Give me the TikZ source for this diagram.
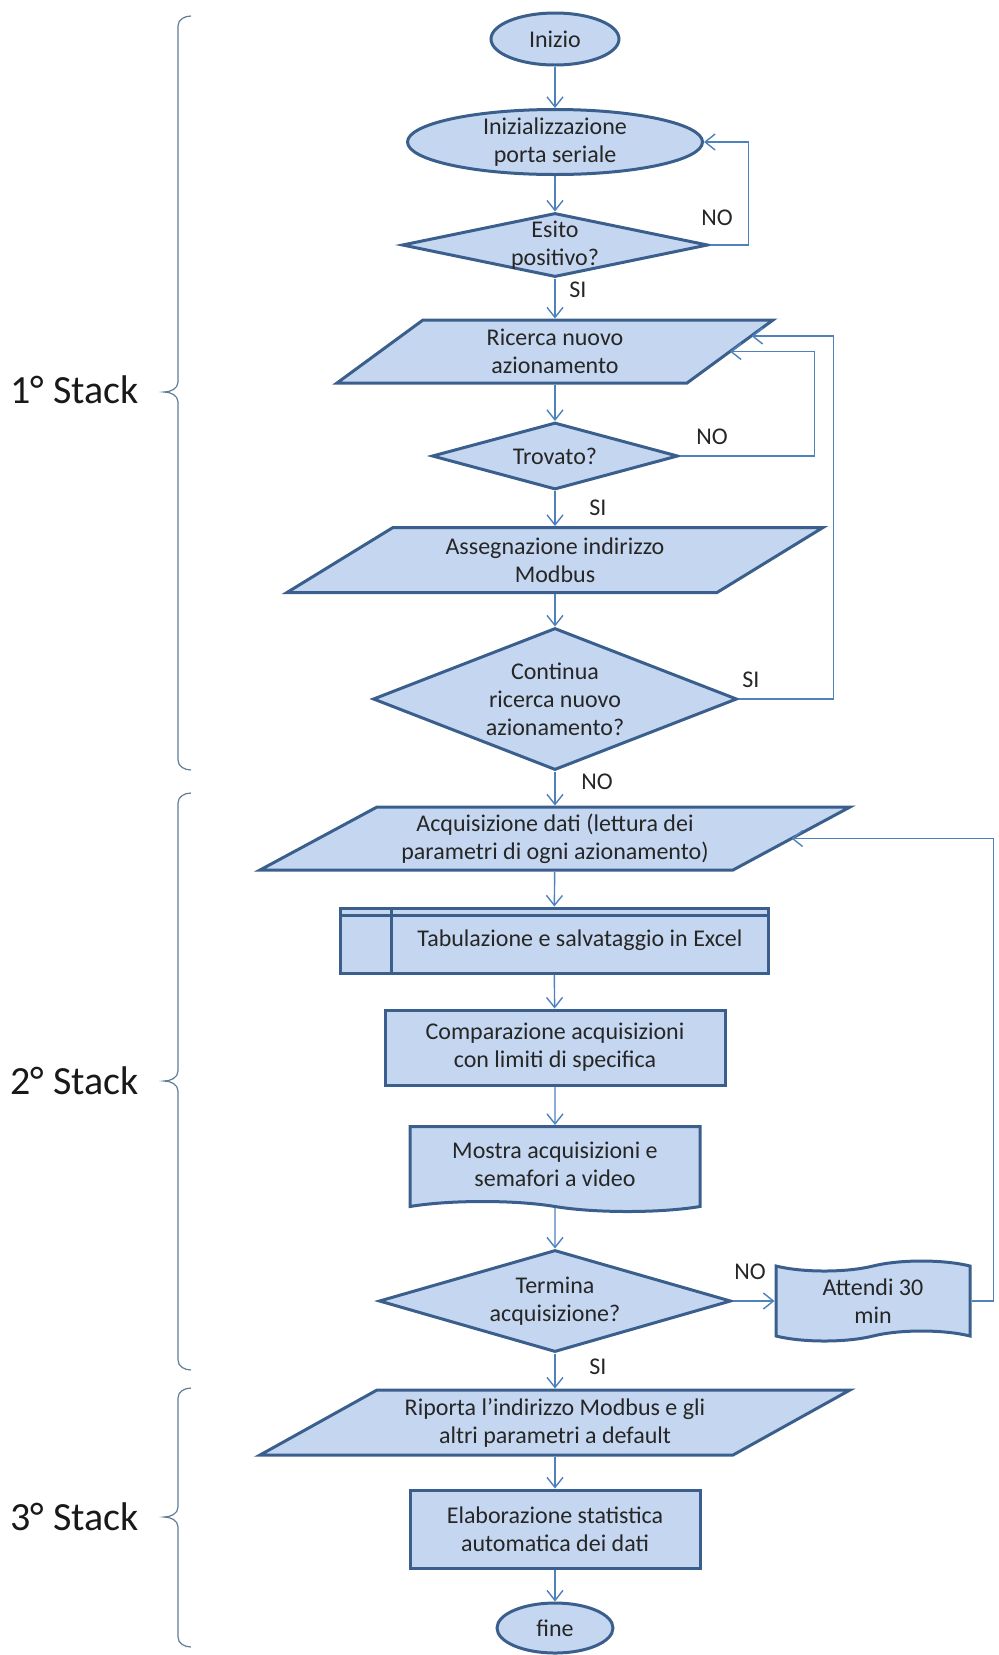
\documentclass[tikz,border=0pt]{standalone}
\usepackage{fontspec}
\setmainfont{Carlito}
\usepackage{xcolor}
\usetikzlibrary{shapes.geometric,shapes.symbols,arrows.meta,calc}
\definecolor{boxfill}{RGB}{197,215,240}
\definecolor{boxline}{RGB}{58,95,140}
\definecolor{connline}{RGB}{79,129,189}
\definecolor{brkline}{RGB}{96,125,150}
\tikzset{base/.style={draw=boxline, line width=1.5pt, fill=boxfill, inner sep=0pt,
   align=center, text=black!85, font=\fontsize{12}{14}\selectfont},
 terminal/.style={base, ellipse},
 choice/.style={base, diamond},
 procbox/.style={base, rectangle},
 iotext/.style={base, draw=none, fill=none, rectangle, minimum width=120pt},
 ioshape/.style={draw=boxline, line width=1.5pt, fill=boxfill, line join=miter},
 docbox/.style={base, tape, tape bend top=none, tape bend bottom=out and in},
 waitbox/.style={base, tape},
 conn/.style={draw=connline, line width=0.7pt, -{Straight Barb[length=5pt,width=8pt]}},
 lbl/.style={text=black!85, font=\fontsize{12}{14}\selectfont},
 stacklbl/.style={text=black!90, font=\fontsize{20}{24}\selectfont, anchor=east},
 brk/.style={draw=brkline, line width=0.6pt},
 }

\begin{document}
\begin{tikzpicture}[x=0.5pt,y=-0.5pt]
\useasboundingbox (0,0) rectangle (998,1655);

% parallelograms first, text nodes go on top
\path[ioshape] (337,383) -- (423,320) -- (773,320) -- (687,383) -- cycle;
\path[ioshape] (287,592.5) -- (393,527.5) -- (823,527.5) -- (717,592.5) -- cycle;
\path[ioshape] (260,870) -- (377,807) -- (850,807) -- (733,870) -- cycle;
\path[ioshape] (260,1455) -- (377,1390) -- (850,1390) -- (733,1455) -- cycle;

% 1 stack
\node[terminal, minimum width=64pt, minimum height=26pt] (inizio) at (555,39) {Inizio};
\node[terminal, minimum width=147.5pt, minimum height=32.5pt, inner ysep=-4pt] (init) at (555,142) {Inizializzazione\\porta seriale};
\node[choice, shape aspect=4.8, minimum width=153pt, minimum height=32pt, inner ysep=-2pt] (esito) at (555,245) {Esito\\positivo?};
\node[iotext, minimum height=31.5pt] (ricerca) at (555,351.5) {Ricerca nuovo\\azionamento};
\node[choice, shape aspect=3.7, minimum width=123pt, minimum height=33.5pt] (trovato) at (555,456) {Trovato?};
\node[iotext, minimum height=32.5pt] (assegna) at (555,560) {Assegnazione indirizzo\\Modbus};
\node[choice, shape aspect=2.56, minimum width=182pt, minimum height=71pt] (continua) at (555,699) {Continua\\ricerca nuovo\\azionamento?};

% 2 stack
\node[iotext, minimum height=31.5pt] (acquis) at (555,838.5) {Acquisizione dati (lettura dei\\parametri di ogni azionamento)};
\node[procbox, minimum width=214pt, minimum height=32.5pt] (tabul) at (554,940.5) {\hspace*{26pt}Tabulazione e salvataggio in Excel};
\draw[boxline, line width=1.5pt] ($(tabul.north west)+(0,9)$) -- ($(tabul.north east)+(0,9)$);
\draw[boxline, line width=1.5pt] ($(tabul.north west)+(53,0)$) -- ($(tabul.south west)+(53,0)$);
\node[procbox, minimum width=170pt, minimum height=37.5pt] (compar) at (555,1047.5) {Comparazione acquisizioni\\con limiti di specifica};
\node[docbox, minimum width=145pt, minimum height=42.5pt] (mostra) at (555,1164) {Mostra acquisizioni e\\semafori a video};
\node[choice, shape aspect=3.45, minimum width=176pt, minimum height=51pt] (termina) at (555,1301) {Termina\\acquisizione?};
\node[waitbox, minimum width=97pt, minimum height=40pt] (attendi) at (873,1301) {Attendi 30\\min};

% 3 stack
\node[iotext, minimum height=32.5pt] (riporta) at (555,1422.5) {Riporta l’indirizzo Modbus e gli\\altri parametri a default};
\node[procbox, minimum width=145pt, minimum height=39pt] (elabor) at (555,1529) {Elaborazione statistica\\automatica dei dati};
\node[terminal, minimum width=58pt, minimum height=25pt] (fine) at (555,1628) {fine};

% points on the slanted sides
\coordinate (ric-a) at (730,351.5);
\coordinate (ric-b) at (751.5,336);
\coordinate (acq-a) at (791.5,838.5);

% connectors
\draw[conn] (inizio) -- (init);
\draw[conn] (init) -- (esito);
\draw[conn] (esito) -- (ricerca);
\draw[conn] (esito.east) -- ++(39,0) |- (init.east);
\draw[conn] (ricerca) -- (trovato);
\draw[conn] (trovato) -- (assegna);
\draw[conn] (trovato.east) -- ++(135,0) |- (ric-a);
\draw[conn] (assegna) -- (continua);
\draw[conn] (continua.east) -- ++(95,0) |- (ric-b);
\draw[conn] (continua) -- (acquis);
\draw[conn] (acquis) -- (tabul);
\draw[conn] (tabul) -- (compar);
\draw[conn] (compar) -- (mostra);
\draw[conn] (mostra) -- (termina);
\draw[conn] (termina.east) -- (attendi.west);
\draw[conn] (attendi.east) -- ++(22,0) |- (acq-a);
\draw[conn] (termina) -- (riporta);
\draw[conn] (riporta) -- (elabor);
\draw[conn] (elabor) -- (fine);

% labels
\node[lbl] (no1) at (717,218) {NO};
\node[lbl] (si1) at (578,290) {SI};
\node[lbl] (no2) at (712,437) {NO};
\node[lbl] (si2) at (598,508) {SI};
\node[lbl] (si3) at (751,680) {SI};
\node[lbl] (no3) at (597,782) {NO};
\node[lbl] (no4) at (750,1272) {NO};
\node[lbl] (si4) at (598,1367) {SI};

% brackets
\draw[brk] (191,16) to[out=180,in=90] (178,26) -- (178,382) to[out=270,in=0] (164,392)
   to[out=0,in=90] (178,402) -- (178,760) to[out=270,in=180] (191,770);
\draw[brk] (191,793) to[out=180,in=90] (178,803) -- (178,1071) to[out=270,in=0] (164,1081)
   to[out=0,in=90] (178,1091) -- (178,1360) to[out=270,in=180] (191,1370);
\draw[brk] (191,1388) to[out=180,in=90] (178,1398) -- (178,1507) to[out=270,in=0] (164,1517)
   to[out=0,in=90] (178,1527) -- (178,1637) to[out=270,in=180] (191,1647);
\node[stacklbl] (stack1) at (146,390) {1° Stack};
\node[stacklbl] (stack2) at (146,1081) {2° Stack};
\node[stacklbl] (stack3) at (146,1517) {3° Stack};
\end{tikzpicture}
\end{document}
